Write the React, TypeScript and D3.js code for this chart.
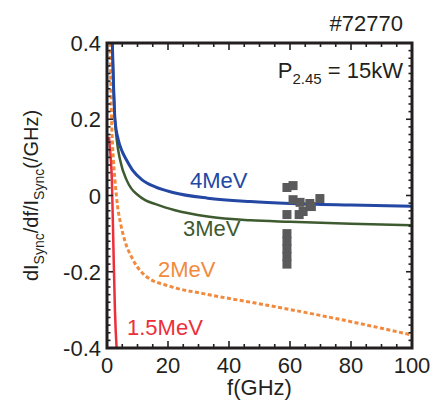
import { useEffect, useRef } from "react";
import * as d3 from "d3";

// curves: [f (GHz), dI/df/I (/GHz)]
const mev4: [number, number][] = [
  [1.75, 0.4], [2.1, 0.3], [2.6, 0.2], [3.7, 0.146], [5, 0.115], [6.4, 0.093],
  [8.5, 0.065], [11.5, 0.041], [16, 0.022], [21.6, 0.008], [33, -0.007],
  [47, -0.016], [60, -0.021], [80, -0.025], [100, -0.028],
];
const mev3: [number, number][] = [
  [1.75, 0.4], [2.1, 0.3], [2.6, 0.2], [3.2, 0.146], [4.3, 0.093], [6.4, 0.041],
  [8, 0.018], [10, 0.002], [12.5, -0.012], [15.7, -0.022], [19, -0.031],
  [22, -0.038], [33, -0.055], [47, -0.065], [60, -0.069], [80, -0.074],
  [100, -0.078],
];
const mev2: [number, number][] = [
  [1.0, 0.4], [1.5, 0.2], [2.1, 0.093], [2.6, 0.041], [3.5, -0.03],
  [4.5, -0.075], [5.9, -0.12], [8.1, -0.162], [12.5, -0.21], [21, -0.239],
  [32, -0.258], [52, -0.287], [74, -0.321], [100, -0.366],
];
const mev15: [number, number][] = [
  [0.65, 0.154], [1.2, 0.1], [1.6, 0.041], [2.1, -0.134], [2.6, -0.3],
  [3.3, -0.42],
];
const measured: [number, number][] = [
  [59, 0.021], [61, 0.026], [61, -0.011], [63.3, -0.018], [59, -0.05],
  [63, -0.05], [64.3, -0.042], [66.5, -0.021], [69.8, -0.008], [67, -0.029],
  [59, -0.1], [59, -0.12], [59, -0.14], [59, -0.16], [59, -0.18],
];

const xMajor = [0, 20, 40, 60, 80, 100];
const yMajor = [-0.4, -0.2, 0, 0.2, 0.4];
const yLabels = ["-0.4", "-0.2", "0", "0.2", "0.4"];

const font = "'Liberation Sans', Arial, sans-serif";
const ink = "#231f20";

export default function App() {
  const ref = useRef<SVGSVGElement>(null);

  useEffect(() => {
    const svg = d3.select(ref.current);
    svg.selectAll("*").remove();

    const left = 107, right = 412, top = 43, bottom = 348;
    const x = d3.scaleLinear().domain([0, 100]).range([left, right]);
    const y = d3.scaleLinear().domain([-0.4, 0.4]).range([bottom, top]);

    svg.append("clipPath").attr("id", "plot")
      .append("rect").attr("x", left).attr("y", top)
      .attr("width", right - left).attr("height", bottom - top);

    const line = d3.line<[number, number]>()
      .x(d => x(d[0])).y(d => y(d[1]))
      .curve(d3.curveMonotoneX);

    const g = svg.append("g").attr("clip-path", "url(#plot)");

    const series = [
      { data: mev2, color: "#f28a3e", width: 3, dash: "4,2.5" },
      { data: mev3, color: "#3e5a2f", width: 2.5, dash: null },
      { data: mev4, color: "#2347a3", width: 3, dash: null },
      { data: mev15, color: "#ec2f3a", width: 2.5, dash: null },
    ];
    series.forEach(s => {
      g.append("path").datum(s.data)
        .attr("d", line)
        .attr("fill", "none")
        .attr("stroke", s.color)
        .attr("stroke-width", s.width)
        .attr("stroke-dasharray", s.dash);
    });

    g.selectAll("rect.pt").data(measured).enter().append("rect")
      .attr("class", "pt")
      .attr("x", d => x(d[0]) - 4.5).attr("y", d => y(d[1]) - 4.5)
      .attr("width", 9).attr("height", 9)
      .attr("fill", "#5a5a5c");

    // ticks, all pointing inward
    const ticks = svg.append("g").attr("stroke", ink).attr("stroke-width", 1.6);
    d3.range(0, 101, 5).forEach(v => {
      const len = v % 20 === 0 ? 7 : 4;
      ticks.append("line").attr("x1", x(v)).attr("x2", x(v)).attr("y1", bottom).attr("y2", bottom - len);
      ticks.append("line").attr("x1", x(v)).attr("x2", x(v)).attr("y1", top).attr("y2", top + len);
    });
    d3.range(0, 41).forEach(i => {
      const v = -0.4 + i * 0.02;
      const len = i % 10 === 0 ? 6 : 3.5;
      ticks.append("line").attr("x1", left).attr("x2", left + len).attr("y1", y(v)).attr("y2", y(v));
      ticks.append("line").attr("x1", right).attr("x2", right - len).attr("y1", y(v)).attr("y2", y(v));
    });

    svg.append("rect")
      .attr("x", left).attr("y", top)
      .attr("width", right - left).attr("height", bottom - top)
      .attr("fill", "none").attr("stroke", ink).attr("stroke-width", 3);

    const txt = svg.append("g").attr("font-family", font).attr("fill", ink).attr("font-size", 22);

    xMajor.forEach(v => {
      txt.append("text").attr("x", x(v)).attr("y", 373)
        .attr("text-anchor", "middle").text(v);
    });
    yMajor.forEach((v, i) => {
      txt.append("text").attr("x", 101).attr("y", y(v) + 8)
        .attr("text-anchor", "end").text(yLabels[i]);
    });

    txt.append("text").attr("x", (left + right) / 2).attr("y", 395)
      .attr("text-anchor", "middle").text("f(GHz)");

    const yl = txt.append("text")
      .attr("transform", `translate(38,${(top + bottom) / 2}) rotate(-90)`)
      .attr("text-anchor", "middle").attr("font-size", 20);
    yl.append("tspan").text("dI");
    yl.append("tspan").attr("font-size", 14).attr("dy", 6).text("Sync");
    yl.append("tspan").attr("dy", -6).text("/df/I");
    yl.append("tspan").attr("font-size", 14).attr("dy", 6).text("Sync");
    yl.append("tspan").attr("dy", -6).text("(/GHz)");

    txt.append("text").attr("x", 403).attr("y", 31)
      .attr("text-anchor", "end").text("#72770");

    const p = txt.append("text").attr("x", 403).attr("y", 78).attr("text-anchor", "end");
    p.append("tspan").text("P");
    p.append("tspan").attr("font-size", 15).attr("dy", 6).text("2.45");
    p.append("tspan").attr("dy", -6).text(" = 15kW");

    const labels = [
      { t: "4MeV", fx: 190, fy: 188, c: "#2347a3" },
      { t: "3MeV", fx: 183, fy: 236, c: "#3e5a2f" },
      { t: "2MeV", fx: 158, fy: 277, c: "#f28a3e" },
      { t: "1.5MeV", fx: 127, fy: 335, c: "#ec2f3a" },
    ];
    labels.forEach(l => {
      txt.append("text").attr("x", l.fx).attr("y", l.fy).attr("fill", l.c).text(l.t);
    });
  }, []);

  return (
    <svg ref={ref} width={433} height={401}
      style={{ position: "absolute", left: 0, top: 0, background: "#fff" }} />
  );
}
